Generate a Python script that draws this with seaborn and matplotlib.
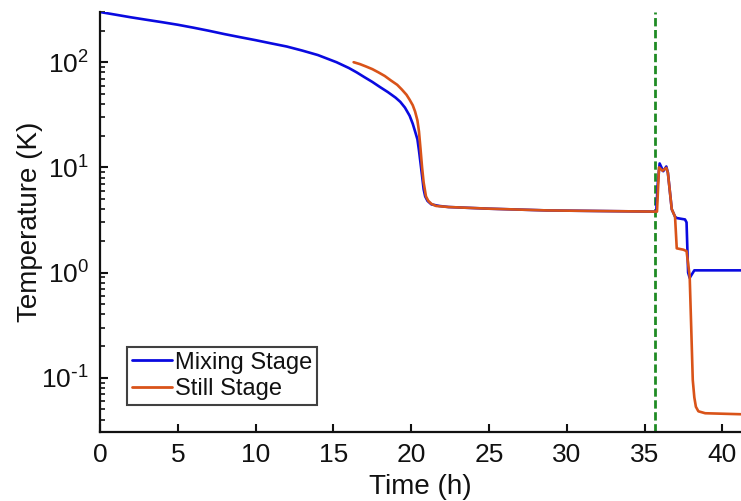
import numpy as np
import pandas as pd
import matplotlib
matplotlib.use("Agg")
import matplotlib.pyplot as plt
from matplotlib.lines import Line2D
from matplotlib.ticker import FuncFormatter, LogLocator
import seaborn as sns

# Mixing-stage temperature log (time in hours, temperature in K)
mixing_time = [0, 1, 2, 3, 4, 5, 6, 7, 8, 9, 10, 11, 12, 13, 14, 15.2, 16, 16.5,
               17, 17.5, 18, 18.5, 19, 19.3, 19.6, 19.9, 20.1, 20.25, 20.4, 20.5,
               20.6, 20.7, 20.8, 20.9, 21.05, 21.3, 21.8, 22.4, 25, 28.7, 32,
               35.6, 35.75, 35.85, 35.97, 36.2, 36.4, 36.5, 36.75, 36.96, 37.07,
               37.6, 37.7, 37.8, 37.9, 38.2, 41.2]
mixing_temp = [300, 283, 267, 253, 240, 227, 213, 199, 185, 173, 162, 151, 141, 129,
               117, 100, 88, 80, 72, 65, 58, 52, 46, 42, 37, 31, 26, 22, 18.5, 14.5,
               11, 8.3, 6.2, 5.3, 4.8, 4.45, 4.3, 4.2, 4.05, 3.9, 3.85,
               3.8, 3.8, 7.0, 10.9, 9.2, 10.2, 8.9, 4.0, 3.4, 3.3,
               3.2, 3.0, 1.0, 0.89, 1.05, 1.05]

# Still-stage temperature log
still_time = [16.3, 16.7, 17.1, 17.5, 17.9, 18.3, 18.7, 19.1, 19.4, 19.7, 19.9,
              20.1, 20.25, 20.4, 20.5, 20.6, 20.7, 20.8, 20.95, 21.1, 21.3, 21.6,
              22.4, 25, 28.7, 32, 35.6, 35.8, 35.93, 36.15, 36.4, 36.5,
              36.75, 36.96, 37.07, 37.5, 37.7, 37.9, 38.0, 38.1, 38.2, 38.3,
              38.46, 38.9, 41.2]
still_temp = [100, 96, 91, 86, 80, 74, 67, 61, 55, 49, 44,
              39, 34, 28, 22, 15, 10, 7.2, 5.3, 4.8, 4.5, 4.3,
              4.2, 4.05, 3.9, 3.85, 3.8, 3.8, 10.0, 9.3, 9.9, 8.9,
              4.0, 3.4, 1.7, 1.65, 1.6, 0.93, 0.3, 0.095, 0.065, 0.053,
              0.048, 0.046, 0.045]

series_names = ["Mixing Stage", "Still Stage"]
series_colors = ["#0a0ae0", "#D95319"]
marker_time = 35.7

df = pd.concat([
    pd.DataFrame({"Time (h)": mixing_time, "Temperature (K)": mixing_temp,
                  "Stage": series_names[0]}),
    pd.DataFrame({"Time (h)": still_time, "Temperature (K)": still_temp,
                  "Stage": series_names[1]}),
], ignore_index=True)

sns.set_style("white")
plt.rcParams["font.family"] = ["Liberation Sans", "DejaVu Sans"]
plt.rcParams["mathtext.default"] = "regular"
for key in ["text.color", "axes.labelcolor", "xtick.color", "ytick.color"]:
    plt.rcParams[key] = "#111111"

fig = plt.figure(figsize=(7.41, 5.01), dpi=100)
ax = fig.add_axes([0.135, 0.1377, 0.865, 0.8383])

sns.lineplot(data=df, x="Time (h)", y="Temperature (K)", hue="Stage",
             palette=dict(zip(series_names, series_colors)), sort=False,
             estimator=None, linewidth=1.9, ax=ax, legend=False)

ax.axvline(marker_time, color="#1f8b24", linewidth=2.0,
           linestyle=(0, (3.0, 1.3)), zorder=1)

ax.set_yscale("log")
ax.set_xlim(0, 41.2)
ax.set_ylim(0.0305, 300)
ax.set_xticks(np.arange(0, 41, 5))
ax.yaxis.set_major_locator(LogLocator(base=10))
ax.yaxis.set_minor_locator(LogLocator(base=10, subs=np.arange(2, 10)))


def decade_label(value, pos):
    exp = int(round(np.log10(value)))
    if exp < 0:
        return r"$10^{\text{-}%d}$" % (-exp)
    return r"$10^{%d}$" % exp


ax.yaxis.set_major_formatter(FuncFormatter(decade_label))

ax.set_xlabel("Time (h)", fontsize=20, labelpad=5)
ax.set_ylabel("Temperature (K)", fontsize=20, labelpad=-1)

for side in ["top", "right"]:
    ax.spines[side].set_visible(False)
for side in ["left", "bottom"]:
    ax.spines[side].set_color("#111111")
    ax.spines[side].set_linewidth(1.6)

ax.tick_params(axis="both", which="major", direction="in", length=6,
               width=1.5, color="#111111", labelsize=19, pad=8,
               left=True, bottom=True)
ax.tick_params(axis="y", which="minor", direction="in", length=3.5,
               width=1.2, color="#111111", left=True)
ax.tick_params(axis="x", which="minor", bottom=False)

handles = [Line2D([], [], color=c, linewidth=2.0) for c in series_colors]
leg = ax.legend(handles, series_names, loc="lower left",
                bbox_to_anchor=(0.042, 0.065), fontsize=17, frameon=True,
                fancybox=False, handlelength=1.7, handletextpad=0.15,
                labelspacing=0.18, borderpad=0.2, borderaxespad=0)
leg.get_frame().set_edgecolor("#111111")
leg.get_frame().set_linewidth(1.5)

fig.savefig("out.png", dpi=100)
